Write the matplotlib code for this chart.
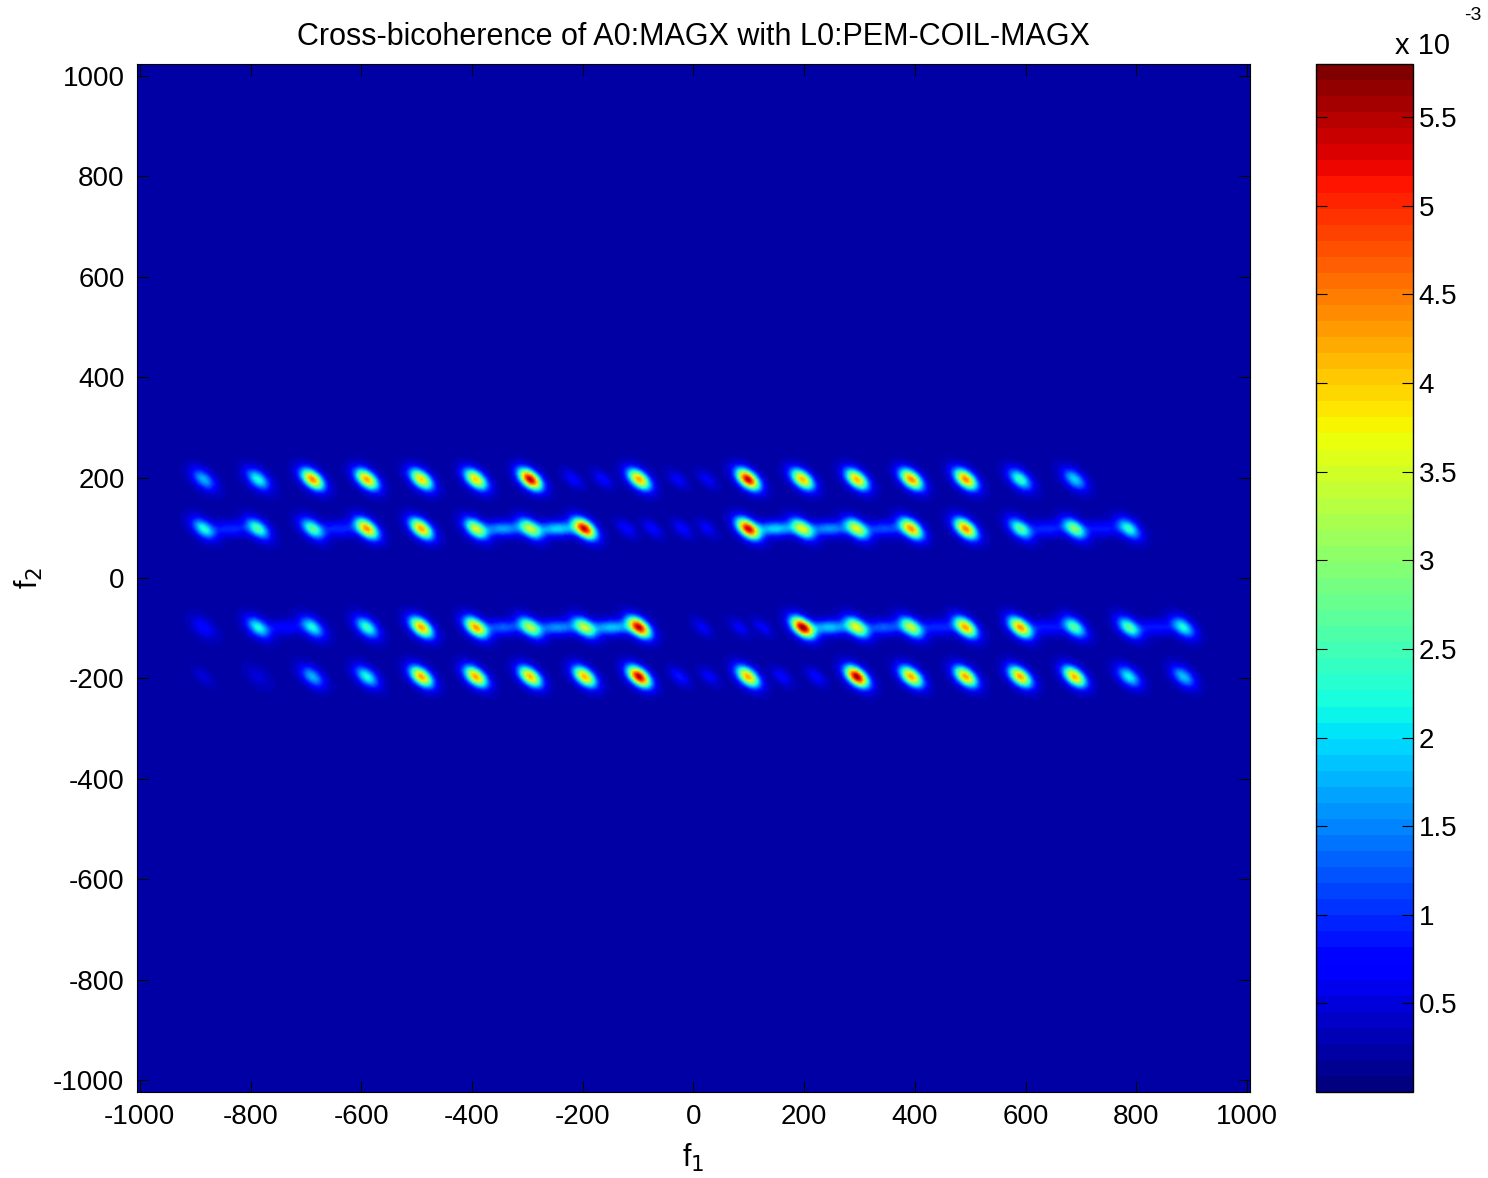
import numpy as np
import matplotlib
matplotlib.use("Agg")
import matplotlib.pyplot as plt

plt.rcParams['font.family'] = ['Liberation Sans', 'DejaVu Sans']
plt.rcParams['axes.unicode_minus'] = False

# ---- data (values in units of 1e-3) ----
title = "Cross-bicoherence of A0:MAGX with L0:PEM-COIL-MAGX"
f1_peaks = [-886.5, -788, -689.5, -591, -492.5, -394, -295.5, -197, -98.5,
            98.5, 197, 295.5, 394, 492.5, 591, 689.5, 788, 886.5]
f2_rows = [197, 98.5, -98.5, -197]
amp_row_p197 = [1.8, 2.3, 4.5, 4.3, 4.0, 4.0, 5.6, 0.0, 4.3,
                5.5, 4.2, 4.2, 4.5, 4.5, 2.5, 2.0, 0.0, 0.0]
amp_row_p98 = [2.2, 2.5, 2.6, 4.3, 4.3, 3.3, 3.0, 5.2, 0.0,
               5.2, 3.2, 3.3, 4.3, 4.5, 2.6, 2.8, 2.3, 0.0]
amp_row_m98 = [0.8, 2.2, 2.2, 2.5, 4.3, 4.2, 3.0, 3.0, 5.3,
               0.0, 5.5, 3.3, 3.2, 4.2, 4.3, 2.6, 2.6, 2.2]
amp_row_m197 = [0.0, 0.5, 1.8, 2.3, 4.3, 4.3, 4.2, 4.2, 5.6,
                4.3, 0.0, 5.7, 4.3, 4.3, 4.3, 4.2, 2.2, 1.9]

# faint isolated blobs (f1, f2, amplitude)
faint_f1 = [-218, -164, -29, 25, -121, -74, -20, 25, 16, 83, 125, -25, 29, 160, 222, -886.5]
faint_f2 = [197, 197, 197, 197, 98.5, 98.5, 98.5, 98.5, -98.5, -98.5, -98.5, -197, -197, -197, -197, -197]
faint_amp = [0.8, 0.8, 0.7, 0.7, 0.8, 0.8, 0.8, 0.7, 0.7, 0.7, 0.7, 0.9, 0.7, 0.8, 0.8, 0.5]

# horizontal ridges between peaks (f1, f2, amplitude)
ridge_f1 = [-837, -640, -345, -246, 148, 246, 345, 640, 739,
            -740, -345, -246, -148, 246, 345, 443, 640, 837]
ridge_f2 = [98.5] * 9 + [-98.5] * 9
ridge_amp = [1.0, 1.0, 1.7, 2.0, 2.0, 1.6, 1.2, 1.0, 0.9,
             0.8, 1.3, 1.6, 1.9, 1.9, 1.3, 1.0, 0.9, 0.9]

background = 0.25
vmax = 5.8
cbar_ticks = [0.5, 1, 1.5, 2, 2.5, 3, 3.5, 4, 4.5, 5, 5.5]
x_ticks = [-1000, -800, -600, -400, -200, 0, 200, 400, 600, 800, 1000]
y_ticks = [-1000, -800, -600, -400, -200, 0, 200, 400, 600, 800, 1000]

# ---- build field ----
f = np.linspace(-1024, 1024, 513)
F1, F2 = np.meshgrid(f, f)
Z = np.full(F1.shape, background)

def tilted(cx, cy, a, smaj=17.5, smin=10.0):
    u = ((F1 - cx) - (F2 - cy)) / np.sqrt(2)
    v = ((F1 - cx) + (F2 - cy)) / np.sqrt(2)
    return a * np.exp(-0.5 * (u / smaj) ** 2 - 0.5 * (v / smin) ** 2)

def horiz(cx, cy, a, sx=26.0, sy=10.0):
    return a * np.exp(-0.5 * ((F1 - cx) / sx) ** 2 - 0.5 * ((F2 - cy) / sy) ** 2)

rows = [amp_row_p197, amp_row_p98, amp_row_m98, amp_row_m197]
for fy, amps in zip(f2_rows, rows):
    for fx, a in zip(f1_peaks, amps):
        if a > 0:
            Z += tilted(fx, fy, a - background)
for fx, fy, a in zip(faint_f1, faint_f2, faint_amp):
    Z += tilted(fx, fy, a - background, 14, 7.5)
for fx, fy, a in zip(ridge_f1, ridge_f2, ridge_amp):
    Z += horiz(fx, fy, a - background)

# ---- plot ----
W, H = 1488, 1178
fig = plt.figure(figsize=(W / 100, H / 100), dpi=100)
ax = fig.add_axes([137 / W, 1 - 1092 / H, (1250 - 137) / W, (1092 - 64) / H])
cax = fig.add_axes([1316 / W, 1 - 1092 / H, (1413 - 1316) / W, (1092 - 64) / H])

cmap = plt.get_cmap('jet', 64)
im = ax.imshow(Z, extent=[-1024, 1024, -1024, 1024], origin='lower', aspect='auto',
               cmap=cmap, vmin=0, vmax=vmax, interpolation='bilinear')
ax.set_xlim(-1005, 1005)
ax.set_ylim(-1024, 1024)
ax.set_xticks(x_ticks)
ax.set_yticks(y_ticks)
ax.tick_params(direction='in', top=True, right=True, length=8, labelsize=20, pad=9)
ax.set_title(title, fontsize=22, pad=14)
ax.set_xlabel("f$_1$", fontsize=22, labelpad=8)
ax.set_ylabel("f$_2$", fontsize=22, labelpad=6)

cb = fig.colorbar(im, cax=cax, ticks=cbar_ticks)
cb.ax.set_yticklabels([f"{t:g}" for t in cbar_ticks])
cb.ax.tick_params(direction='in', left=True, right=True, length=8, labelsize=20, pad=4)
cb.outline.set_linewidth(1.0)

fig.text(1395 / W, 1 - 54 / H, "x 10", fontsize=21, ha='left', va='baseline')
fig.text(1464 / W, 1 - 20 / H, "-3", fontsize=14, ha='left', va='baseline')

fig.savefig("out.png", dpi=100)
